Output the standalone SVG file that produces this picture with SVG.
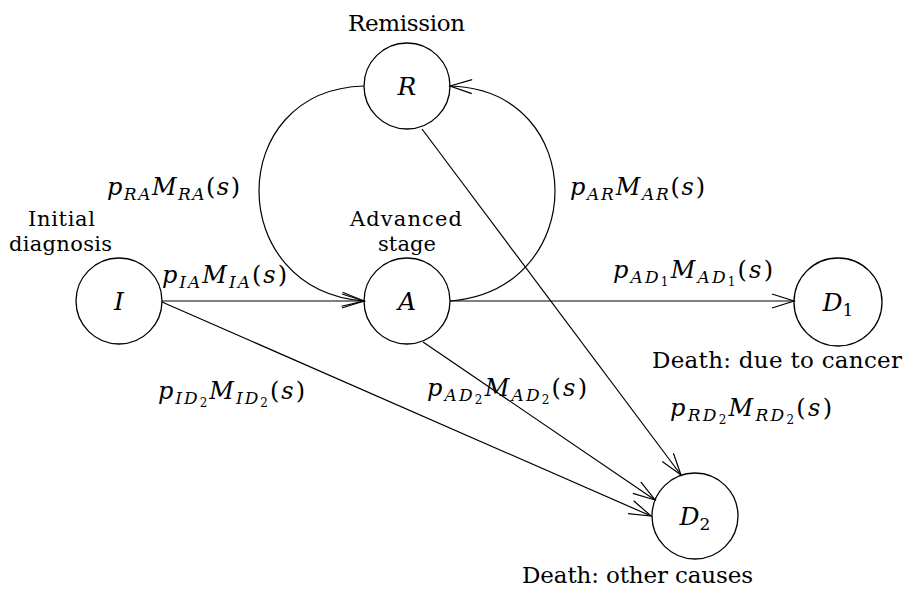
<svg xmlns="http://www.w3.org/2000/svg" width="907" height="589" viewBox="0 0 907 589">
<style>
.node circle{fill:none;stroke:#000;stroke-width:1.3}
.e{fill:none;stroke:#000;stroke-width:1.2;marker-end:url(#arr)}
text{font-family:"DejaVu Serif","Liberation Serif",serif}
.t{font-size:23px}
.t2{font-size:21px}
.m{font-size:24px;font-style:italic}
.s{font-size:17px}
.u{font-style:normal}
.ss{font-size:12px;font-style:normal}
.nl{font-size:25px;font-style:italic;text-anchor:middle}
</style>
<defs>
<marker id="arr" markerUnits="userSpaceOnUse" markerWidth="40" markerHeight="40" refX="0" refY="0" orient="auto" viewBox="-30 -15 40 30" overflow="visible">
<path d="M-22,-7 L0,0 L-22,7" fill="none" stroke="#000" stroke-width="1.2"/>
</marker>
</defs>

<g id="connectors">
<path class="e" d="M162,301 L364,301"/>
<path class="e" d="M450,301 L794,301"/>
<path class="e" d="M162,302 L651,516"/>
<path class="e" d="M423,342 L655,500"/>
<path class="e" d="M422,129 L681,475"/>
<path class="e" d="M364,86 C224,90 224,290 364,301"/>
<path class="e" d="M450,301 C590,290 590,90 450,86"/>
</g>

<g fill="#000">
<g id="node-R" class="node">
<circle cx="407" cy="86" r="43"/>
<text class="nl" x="407" y="95">R</text>
<text class="t" x="348" y="31" textLength="117">Remission</text>
</g>

<g id="node-A" class="node">
<circle cx="407" cy="301" r="43"/>
<text class="nl" x="407" y="310">A</text>
<text class="t2"><tspan x="350" y="226" textLength="112">Advanced</tspan><tspan x="378" y="251" textLength="58">stage</tspan></text>
</g>

<g id="node-I" class="node">
<circle cx="119" cy="301" r="43"/>
<text class="nl" x="119" y="310">I</text>
<text class="t2"><tspan x="28" y="226" textLength="67">Initial</tspan><tspan x="9" y="251" textLength="103">diagnosis</tspan></text>
</g>

<g id="node-D1" class="node">
<circle cx="838" cy="302" r="44"/>
<text class="nl" x="838" y="311">D<tspan class="u" font-size="17" dy="5">1</tspan></text>
<text class="t" x="652" y="368" textLength="250">Death: due to cancer</text>
</g>

<g id="node-D2" class="node">
<circle cx="695" cy="516" r="43"/>
<text class="nl" x="695" y="525">D<tspan class="u" font-size="17" dy="5">2</tspan></text>
<text class="t" x="522" y="583" textLength="231">Death: other causes</text>
</g>

<g id="edge-labels">
<text class="m" x="107" y="195" textLength="133">p<tspan class="s" dy="5">RA</tspan><tspan dy="-5">M</tspan><tspan class="s" dy="5">RA</tspan><tspan class="u" dy="-5">(</tspan>s<tspan class="u">)</tspan></text>
<text class="m" x="162" y="283" textLength="125">p<tspan class="s" dy="5">IA</tspan><tspan dy="-5">M</tspan><tspan class="s" dy="5">IA</tspan><tspan class="u" dy="-5">(</tspan>s<tspan class="u">)</tspan></text>
<text class="m" x="570" y="195" textLength="135">p<tspan class="s" dy="5">AR</tspan><tspan dy="-5">M</tspan><tspan class="s" dy="5">AR</tspan><tspan class="u" dy="-5">(</tspan>s<tspan class="u">)</tspan></text>
<text class="m" x="613" y="278" textLength="160">p<tspan class="s" dy="5">AD</tspan><tspan class="ss" dy="3">1</tspan><tspan dy="-8">M</tspan><tspan class="s" dy="5">AD</tspan><tspan class="ss" dy="3">1</tspan><tspan class="u" dy="-8">(</tspan>s<tspan class="u">)</tspan></text>
<text class="m" x="427" y="396" textLength="160">p<tspan class="s" dy="5">AD</tspan><tspan class="ss" dy="3">2</tspan><tspan dy="-8">M</tspan><tspan class="s" dy="5">AD</tspan><tspan class="ss" dy="3">2</tspan><tspan class="u" dy="-8">(</tspan>s<tspan class="u">)</tspan></text>
<text class="m" x="158" y="399" textLength="147">p<tspan class="s" dy="5">ID</tspan><tspan class="ss" dy="3">2</tspan><tspan dy="-8">M</tspan><tspan class="s" dy="5">ID</tspan><tspan class="ss" dy="3">2</tspan><tspan class="u" dy="-8">(</tspan>s<tspan class="u">)</tspan></text>
<text class="m" x="670" y="416" textLength="162">p<tspan class="s" dy="5">RD</tspan><tspan class="ss" dy="3">2</tspan><tspan dy="-8">M</tspan><tspan class="s" dy="5">RD</tspan><tspan class="ss" dy="3">2</tspan><tspan class="u" dy="-8">(</tspan>s<tspan class="u">)</tspan></text>
</g>
</g>
</svg>
